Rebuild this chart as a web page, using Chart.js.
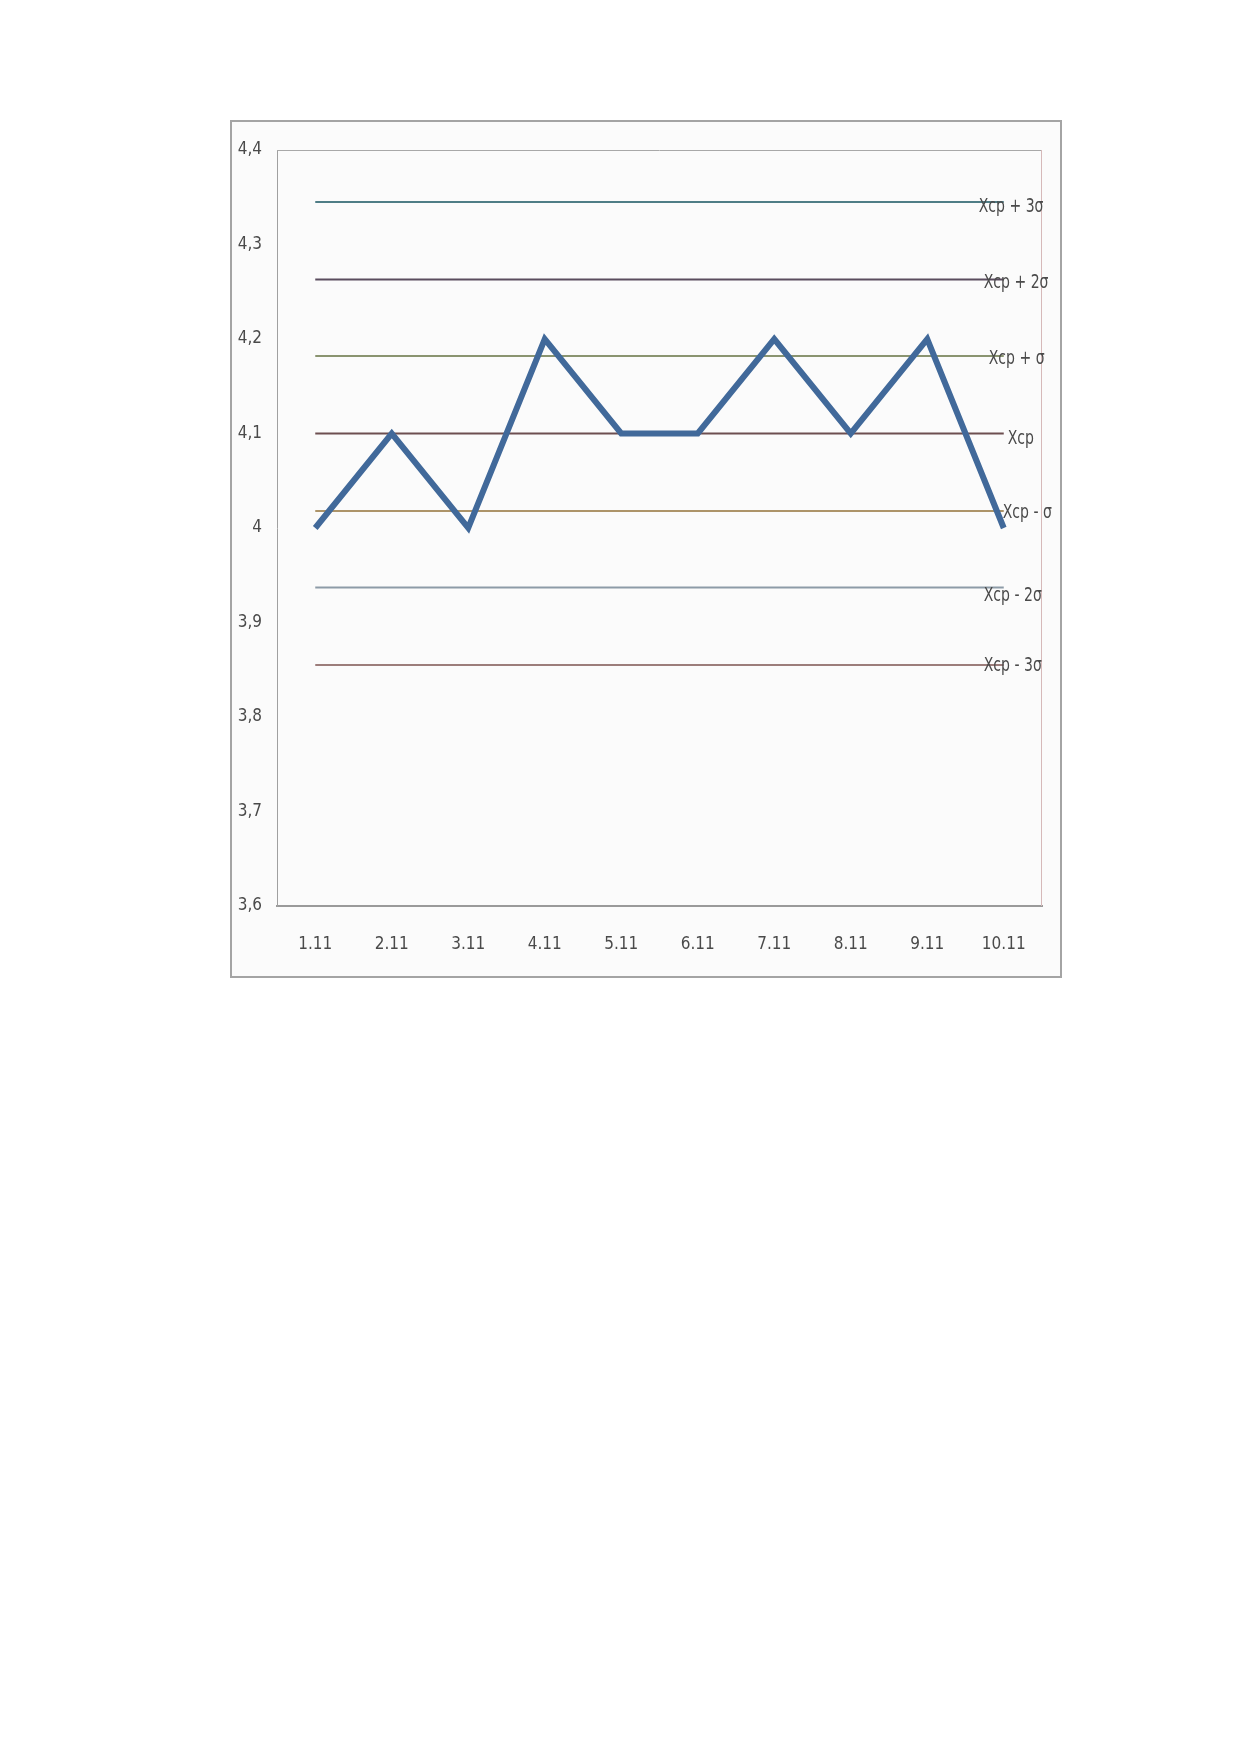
<!DOCTYPE html>
<html>
<head>
<meta charset="utf-8">
<script src="https://cdn.jsdelivr.net/npm/chart.js@4/dist/chart.umd.min.js"></script>
<style>
    body { margin: 0; background: #ffffff; }
    #box {
        position: absolute;
        left: 230px; top: 120px;
        width: 828px; height: 854px;
        border: 2px solid #a4a4a4;
        background: #fbfbfb;
    }
</style>
</head>
<body>
<div id="box"><canvas id="controlChart"></canvas></div>
<script>
// data
const days = ['1.11', '2.11', '3.11', '4.11', '5.11', '6.11', '7.11', '8.11', '9.11', '10.11'];
const values = [4, 4.1, 4, 4.2, 4.1, 4.1, 4.2, 4.1, 4.2, 4];
const limitNames = ['Xcp + 3σ', 'Xcp + 2σ', 'Xcp + σ', 'Xcp', 'Xcp - σ', 'Xcp - 2σ', 'Xcp - 3σ'];
const limitValues = [4.345, 4.263, 4.182, 4.1, 4.018, 3.937, 3.855];
const yTickLabels = ['3,6', '3,7', '3,8', '3,9', '4', '4,1', '4,2', '4,3', '4,4'];

const FONT = '"DejaVu Sans Condensed", "Open Sans", sans-serif';

// styling for each limit line + where its label sits next to the last point
const limitColors = ['#4f7d86', '#5a4c5e', '#8a9470', '#6d4f50', '#ad9469', '#8d9ba7', '#9c7d7b'];
const labelDx = [-25, -20, -15, 4, -1, -20, -20];
const labelDy = [5, 3, 3, 5, 2, 8, 1];

const datasets = [{
    label: 'X',
    data: values,
    borderColor: '#41699a',
    borderWidth: 6,
    borderJoinStyle: 'miter',
    pointRadius: 0,
    tension: 0,
    order: 0
}];
limitNames.forEach((name, i) => {
    datasets.push({
        label: name,
        data: days.map(() => limitValues[i]),
        borderColor: limitColors[i],
        borderWidth: 2,
        pointRadius: 0,
        tension: 0,
        order: 1,
        labelText: name,
        labelDx: labelDx[i],
        labelDy: labelDy[i]
    });
});

// frame on top/right of the plot area + end labels of the limit lines
const extras = {
    id: 'extras',
    beforeDatasetsDraw(chart) {
        const a = chart.chartArea;
        const ctx = chart.ctx;
        ctx.save();
        ctx.lineWidth = 1;
        ctx.strokeStyle = '#a8a8a8';
        ctx.beginPath();
        ctx.moveTo(a.left, a.top + 0.5);
        ctx.lineTo(a.right, a.top + 0.5);
        ctx.stroke();
        ctx.strokeStyle = '#d6b9b9';
        ctx.beginPath();
        ctx.moveTo(a.right - 0.5, a.top);
        ctx.lineTo(a.right - 0.5, a.bottom);
        ctx.stroke();
        ctx.restore();
    },
    afterDatasetsDraw(chart) {
        const ctx = chart.ctx;
        chart.data.datasets.forEach((ds, i) => {
            if (!ds.labelText) return;
            const pts = chart.getDatasetMeta(i).data;
            const last = pts[pts.length - 1];
            // squeeze the text a bit, the original uses a narrow font
            ctx.save();
            ctx.translate(last.x + ds.labelDx, last.y + ds.labelDy);
            ctx.scale(0.78, 1);
            ctx.font = '20px ' + FONT;
            ctx.fillStyle = '#4a4a4a';
            ctx.textAlign = 'left';
            ctx.textBaseline = 'middle';
            ctx.fillText(ds.labelText, 0, 0);
            ctx.restore();
        });
    }
};

new Chart(document.getElementById('controlChart'), {
    type: 'line',
    data: { labels: days, datasets: datasets },
    options: {
        responsive: true,
        maintainAspectRatio: false,
        animation: false,
        layout: { padding: { top: 28, right: 18, left: 0, bottom: 0 } },
        scales: {
            x: {
                offset: true,
                grid: { display: false, drawTicks: false },
                border: { color: '#9a9a9a', width: 2 },
                ticks: { padding: 28, color: '#4a4a4a', font: { family: FONT, size: 17 }, maxRotation: 0 },
                afterFit: s => { s.height = 70; }
            },
            y: {
                min: 3.6,
                max: 4.4,
                grid: { display: false, drawTicks: false },
                border: { color: '#a0a0a0', width: 1 },
                ticks: {
                    stepSize: 0.1,
                    padding: 15,
                    color: '#4a4a4a',
                    font: { family: FONT, size: 17 },
                    callback: (v, i) => yTickLabels[i]
                },
                afterFit: s => { s.width = 45; }
            }
        },
        plugins: {
            legend: { display: false },
            tooltip: { enabled: false }
        }
    },
    plugins: [extras]
});
</script>
</body>
</html>
